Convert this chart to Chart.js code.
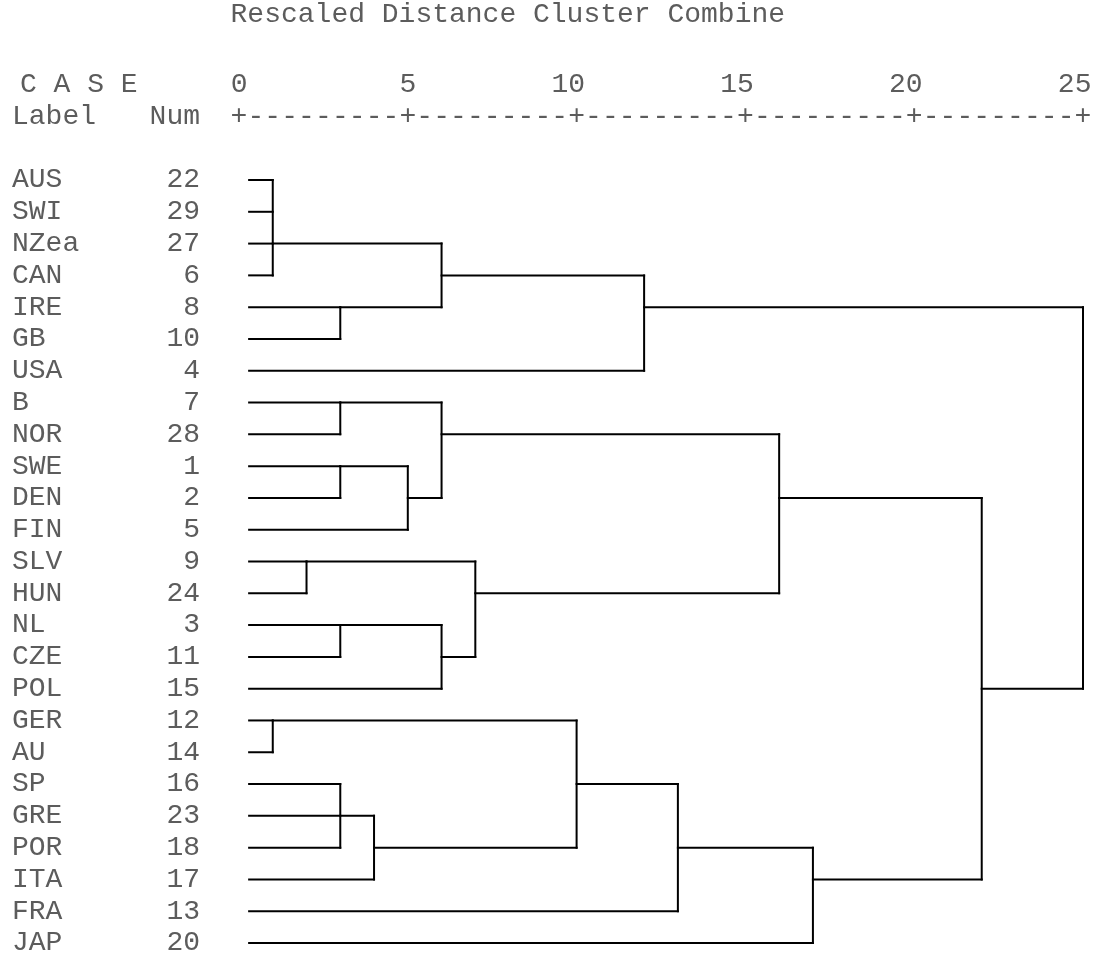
<!DOCTYPE html>
<html lang="en">
<head>
    <meta charset="UTF-8">
    <title>Dendrogram</title>
    <script src="https://cdn.jsdelivr.net/npm/chart.js"></script>
    <style>
        body { margin: 0; background: #fff; }
        #wrap { width: 1097px; height: 955px; position: relative; }
    </style>
</head>
<body>
    <div id="wrap"><canvas id="myChart"></canvas></div>
    <script>
        // cases (top to bottom)
        const caseLabels = ['AUS', 'SWI', 'NZea', 'CAN', 'IRE', 'GB', 'USA', 'B', 'NOR', 'SWE', 'DEN', 'FIN',
            'SLV', 'HUN', 'NL', 'CZE', 'POL', 'GER', 'AU', 'SP', 'GRE', 'POR', 'ITA', 'FRA', 'JAP'];
        const caseNums = [22, 29, 27, 6, 8, 10, 4, 7, 28, 1, 2, 5, 9, 24, 3, 11, 15, 12, 14, 16, 23, 18, 17, 13, 20];
        const tickValues = [0, 5, 10, 15, 20, 25];

        // merges: members are case labels or index of an earlier merge
        const mergeMembers = [
            ['AUS', 'SWI', 'NZea', 'CAN'], ['IRE', 'GB'], [0, 1], [2, 'USA'],
            ['B', 'NOR'], ['SWE', 'DEN'], [5, 'FIN'], [4, 6],
            ['SLV', 'HUN'], ['NL', 'CZE'], [9, 'POL'], [8, 10], [7, 11],
            ['GER', 'AU'], ['SP', 'GRE', 'POR'], [14, 'ITA'], [13, 15], [16, 'FRA'], [17, 'JAP'],
            [12, 18], [3, 19]
        ];
        const mergeHeights = [1, 3, 6, 12, 3, 3, 5, 6, 2, 3, 6, 7, 16, 1, 3, 4, 10, 13, 17, 22, 25];
        // row on which each merged cluster continues to the right
        const mergeRows = [2, 4, 3, 4, 7, 9, 10, 8, 12, 14, 15, 13, 10, 17, 20, 21, 19, 21, 22, 16, null];

        const leafStart = 0.3;
        const font = '28px "Courier New", "Liberation Mono", monospace';
        const textColor = '#5c5c5c';

        // build segments
        let segments = [];
        mergeMembers.forEach((members, i) => {
            const h = mergeHeights[i];
            let rows = [];
            members.forEach(m => {
                let row, x0;
                if (typeof m === 'string') {
                    row = caseLabels.indexOf(m);
                    x0 = leafStart;
                } else {
                    row = mergeRows[m];
                    x0 = mergeHeights[m];
                }
                rows.push(row);
                segments.push([{ x: x0, y: row }, { x: h, y: row }]);
            });
            segments.push([{ x: h, y: Math.min(...rows) }, { x: h, y: Math.max(...rows) }]);
        });

        const datasets = segments.map(s => ({
            data: s,
            showLine: true,
            borderColor: '#000',
            borderWidth: 2,
            borderCapStyle: 'square',
            pointRadius: 0,
            clip: false
        }));

        const textPlugin = {
            id: 'spssText',
            afterDraw(chart) {
                const ctx = chart.ctx;
                const xs = chart.scales.x;
                const ys = chart.scales.y;
                const step = xs.getPixelForValue(0.5) - xs.getPixelForValue(0);
                ctx.save();
                ctx.font = font;
                ctx.fillStyle = textColor;
                ctx.textBaseline = 'middle';

                const rowGap = ys.getPixelForValue(1) - ys.getPixelForValue(0);
                const lineY = ys.getPixelForValue(0) - 2 * rowGap;
                const caseY = lineY - rowGap;

                // title
                ctx.textAlign = 'left';
                ctx.fillText('Rescaled Distance Cluster Combine', xs.getPixelForValue(0) - step / 2, 15);

                // header
                ctx.fillText('C A S E', 20, caseY);
                ctx.fillText('Label', 12, lineY);
                ctx.textAlign = 'right';
                ctx.fillText('Num', 200, lineY);

                // scale numbers, right edge on the '+' cell
                tickValues.forEach(v => {
                    ctx.fillText(String(v), xs.getPixelForValue(v) + step / 2, caseY);
                });

                // +---------+ ruler
                ctx.textAlign = 'center';
                const last = tickValues[tickValues.length - 1];
                for (let v = 0; v <= last; v += 0.5) {
                    ctx.fillText(v % 5 === 0 ? '+' : '-', xs.getPixelForValue(v), lineY);
                }

                // case labels and numbers
                caseLabels.forEach((lab, i) => {
                    const y = ys.getPixelForValue(i);
                    ctx.textAlign = 'left';
                    ctx.fillText(lab, 12, y);
                    ctx.textAlign = 'right';
                    ctx.fillText(String(caseNums[i]), 200, y);
                });
                ctx.restore();
            }
        };

        const chart = new Chart(document.getElementById('myChart'), {
            type: 'scatter',
            data: { datasets: datasets },
            options: {
                responsive: true,
                maintainAspectRatio: false,
                animation: false,
                layout: { padding: { left: 239, right: 14, top: 180, bottom: 12 } },
                plugins: { legend: { display: false }, tooltip: { enabled: false } },
                scales: {
                    x: { type: 'linear', min: 0, max: 25, display: false },
                    y: { type: 'linear', min: 0, max: caseLabels.length - 1, reverse: true, display: false }
                }
            },
            plugins: [textPlugin]
        });
    </script>
</body>
</html>
